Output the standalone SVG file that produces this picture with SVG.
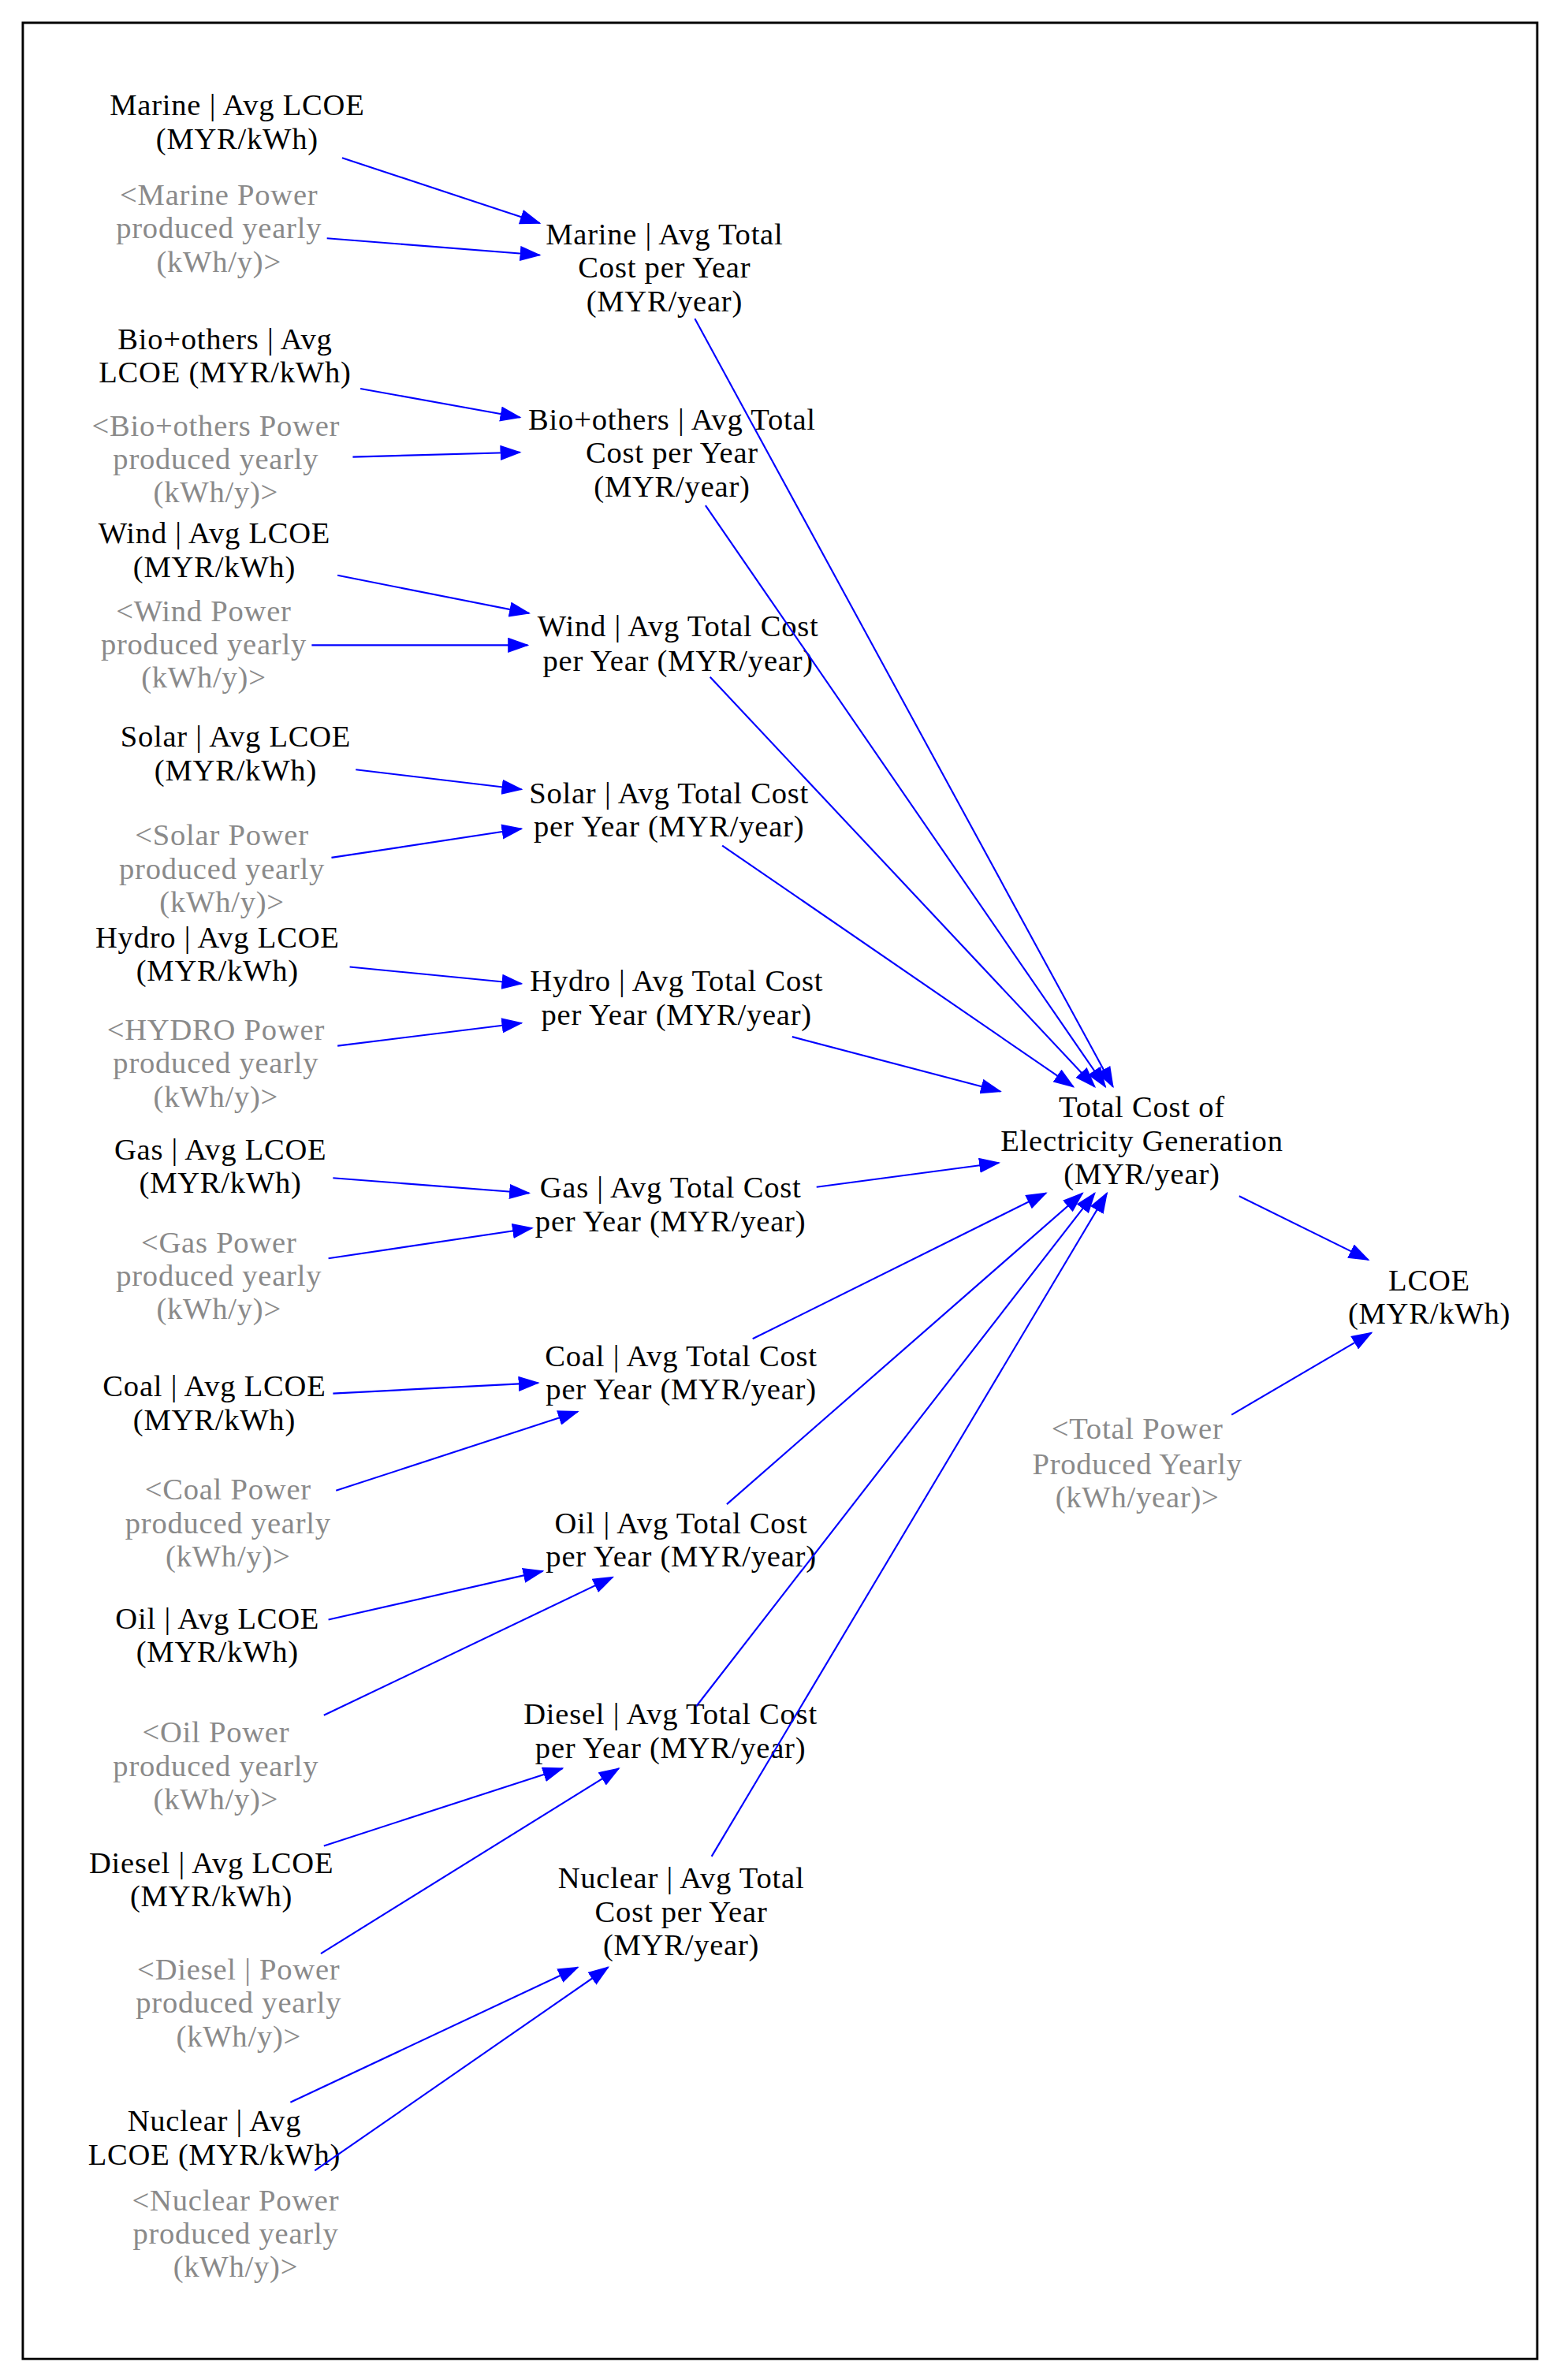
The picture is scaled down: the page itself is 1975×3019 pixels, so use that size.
<svg xmlns="http://www.w3.org/2000/svg" width="1975" height="3019" viewBox="0 0 1975 3019">
<style>
text{font-family:"Liberation Serif","Times New Roman",serif;font-size:20px;letter-spacing:0.4px;text-anchor:middle;fill:#000}
.g text{fill:#8a8a8a}
.c line{stroke:#0000ff;stroke-width:1.1;marker-end:url(#a)}
</style>
<defs><marker id="a" markerUnits="userSpaceOnUse" markerWidth="14" markerHeight="10" refX="13" refY="5" orient="auto"><path d="M0,0 L14,5 L0,10 z" fill="#0000ff"/></marker></defs>
<rect width="1975" height="3019" fill="#fff"/>
<g transform="scale(1.9287,1.9255)">
<rect x="15" y="15" width="996" height="1539" fill="none" stroke="#000" stroke-width="1.5"/>
<g id="marineLCOE"><text x="156" y="76">Marine | Avg LCOE</text><text x="156" y="98">(MYR/kWh)</text></g>
<g id="marinePow" class="g"><text x="144" y="135">&lt;Marine Power</text><text x="144" y="157">produced yearly</text><text x="144" y="179">(kWh/y)&gt;</text></g>
<g id="marineTot"><text x="437" y="161">Marine | Avg Total</text><text x="437" y="183">Cost per Year</text><text x="437" y="205">(MYR/year)</text></g>
<g id="bioLCOE"><text x="148" y="230">Bio+others | Avg</text><text x="148" y="252">LCOE (MYR/kWh)</text></g>
<g id="bioPow" class="g"><text x="142" y="287">&lt;Bio+others Power</text><text x="142" y="309">produced yearly</text><text x="142" y="331">(kWh/y)&gt;</text></g>
<g id="bioTot"><text x="442" y="283">Bio+others | Avg Total</text><text x="442" y="305">Cost per Year</text><text x="442" y="327">(MYR/year)</text></g>
<g id="windLCOE"><text x="141" y="358">Wind | Avg LCOE</text><text x="141" y="380">(MYR/kWh)</text></g>
<g id="windPow" class="g"><text x="134" y="409">&lt;Wind Power</text><text x="134" y="431">produced yearly</text><text x="134" y="453">(kWh/y)&gt;</text></g>
<g id="windTot"><text x="446" y="419">Wind | Avg Total Cost</text><text x="446" y="442">per Year (MYR/year)</text></g>
<g id="solarLCOE"><text x="155" y="492">Solar | Avg LCOE</text><text x="155" y="514">(MYR/kWh)</text></g>
<g id="solarPow" class="g"><text x="146" y="557">&lt;Solar Power</text><text x="146" y="579">produced yearly</text><text x="146" y="601">(kWh/y)&gt;</text></g>
<g id="solarTot"><text x="440" y="529">Solar | Avg Total Cost</text><text x="440" y="551">per Year (MYR/year)</text></g>
<g id="hydroLCOE"><text x="143" y="624">Hydro | Avg LCOE</text><text x="143" y="646">(MYR/kWh)</text></g>
<g id="hydroPow" class="g"><text x="142" y="685">&lt;HYDRO Power</text><text x="142" y="707">produced yearly</text><text x="142" y="729">(kWh/y)&gt;</text></g>
<g id="hydroTot"><text x="445" y="653">Hydro | Avg Total Cost</text><text x="445" y="675">per Year (MYR/year)</text></g>
<g id="gasLCOE"><text x="145" y="764">Gas | Avg LCOE</text><text x="145" y="786">(MYR/kWh)</text></g>
<g id="gasPow" class="g"><text x="144" y="825">&lt;Gas Power</text><text x="144" y="847">produced yearly</text><text x="144" y="869">(kWh/y)&gt;</text></g>
<g id="gasTot"><text x="441" y="789">Gas | Avg Total Cost</text><text x="441" y="811">per Year (MYR/year)</text></g>
<g id="total"><text x="751" y="736">Total Cost of</text><text x="751" y="758">Electricity Generation</text><text x="751" y="780">(MYR/year)</text></g>
<g id="lcoe"><text x="940" y="850">LCOE</text><text x="940" y="872">(MYR/kWh)</text></g>
<g id="totalPow" class="g"><text x="748" y="948">&lt;Total Power</text><text x="748" y="971">Produced Yearly</text><text x="748" y="993">(kWh/year)&gt;</text></g>
<g id="coalLCOE"><text x="141" y="920">Coal | Avg LCOE</text><text x="141" y="942">(MYR/kWh)</text></g>
<g id="coalPow" class="g"><text x="150" y="988">&lt;Coal Power</text><text x="150" y="1010">produced yearly</text><text x="150" y="1032">(kWh/y)&gt;</text></g>
<g id="coalTot"><text x="448" y="900">Coal | Avg Total Cost</text><text x="448" y="922">per Year (MYR/year)</text></g>
<g id="oilTot"><text x="448" y="1010">Oil | Avg Total Cost</text><text x="448" y="1032">per Year (MYR/year)</text></g>
<g id="oilLCOE"><text x="143" y="1073">Oil | Avg LCOE</text><text x="143" y="1095">(MYR/kWh)</text></g>
<g id="oilPow" class="g"><text x="142" y="1148">&lt;Oil Power</text><text x="142" y="1170">produced yearly</text><text x="142" y="1192">(kWh/y)&gt;</text></g>
<g id="dieselTot"><text x="441" y="1136">Diesel | Avg Total Cost</text><text x="441" y="1158">per Year (MYR/year)</text></g>
<g id="dieselLCOE"><text x="139" y="1234">Diesel | Avg LCOE</text><text x="139" y="1256">(MYR/kWh)</text></g>
<g id="dieselPow" class="g"><text x="157" y="1304">&lt;Diesel | Power</text><text x="157" y="1326">produced yearly</text><text x="157" y="1348">(kWh/y)&gt;</text></g>
<g id="nuclearTot"><text x="448" y="1244">Nuclear | Avg Total</text><text x="448" y="1266">Cost per Year</text><text x="448" y="1288">(MYR/year)</text></g>
<g id="nuclearLCOE"><text x="141" y="1404">Nuclear | Avg</text><text x="141" y="1426">LCOE (MYR/kWh)</text></g>
<g id="nuclearPow" class="g"><text x="155" y="1456">&lt;Nuclear Power</text><text x="155" y="1478">produced yearly</text><text x="155" y="1500">(kWh/y)&gt;</text></g>
<g id="connectors" class="c">
<line x1="225" y1="104" x2="355" y2="147"/><line x1="215" y1="157" x2="355" y2="168"/>
<line x1="237" y1="256" x2="342" y2="275"/><line x1="232" y1="301" x2="342" y2="298"/>
<line x1="222" y1="379" x2="348" y2="404"/><line x1="205" y1="425" x2="347" y2="425"/>
<line x1="234" y1="507" x2="343" y2="520"/><line x1="218" y1="565" x2="343" y2="546"/>
<line x1="230" y1="637" x2="343" y2="648"/><line x1="222" y1="689" x2="343" y2="674"/>
<line x1="219" y1="776" x2="348" y2="786"/><line x1="216" y1="829" x2="350" y2="809"/>
<line x1="219" y1="918" x2="354" y2="911"/><line x1="221" y1="982" x2="380" y2="930"/>
<line x1="216" y1="1067" x2="357" y2="1035"/><line x1="213" y1="1130" x2="403" y2="1039"/>
<line x1="213" y1="1216" x2="370" y2="1165"/><line x1="211" y1="1287" x2="407" y2="1165"/>
<line x1="191" y1="1385" x2="380" y2="1296"/><line x1="207" y1="1430" x2="400" y2="1296"/>
<line x1="457" y1="210" x2="732" y2="716"/><line x1="464" y1="333" x2="727" y2="716"/>
<line x1="467" y1="446" x2="720" y2="716"/><line x1="475" y1="557" x2="706" y2="716"/>
<line x1="521" y1="683" x2="658" y2="719"/><line x1="537" y1="782" x2="657" y2="766"/>
<line x1="495" y1="882" x2="688" y2="786"/><line x1="478" y1="991" x2="712" y2="786"/>
<line x1="458" y1="1124" x2="720" y2="786"/><line x1="468" y1="1223" x2="728" y2="786"/>
<line x1="815" y1="788" x2="900" y2="830"/><line x1="810" y1="932" x2="902" y2="878"/>
</g>
</g>
</svg>
